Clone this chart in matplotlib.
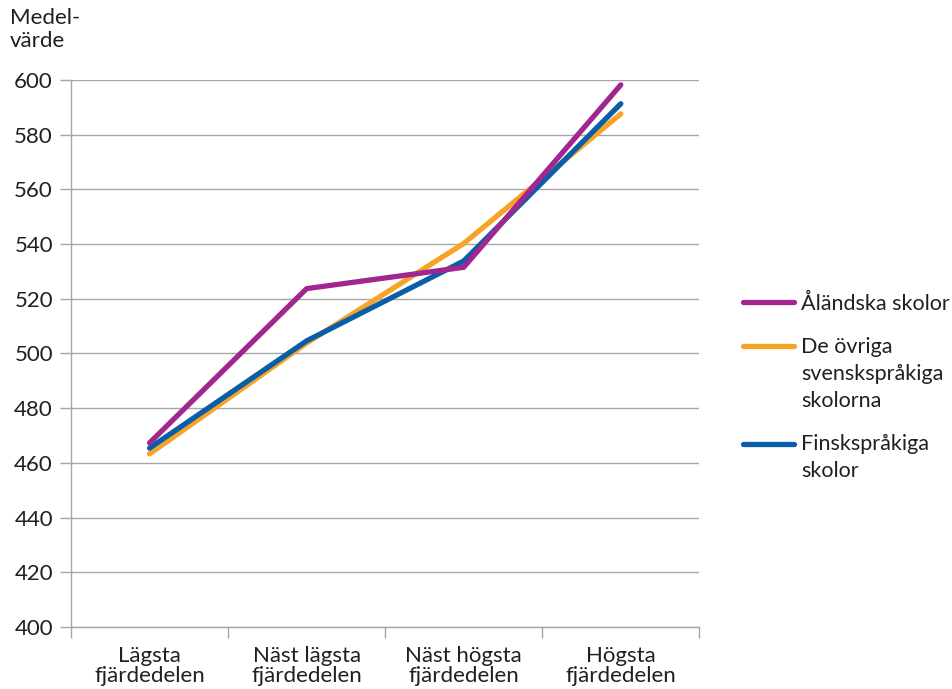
import matplotlib
matplotlib.use("Agg")
import matplotlib.pyplot as plt
from matplotlib.legend_handler import HandlerLine2D
from matplotlib.lines import Line2D
import numpy as np

categories = ["Lägsta\nfjärdedelen", "Näst lägsta\nfjärdedelen",
              "Näst högsta\nfjärdedelen", "Högsta\nfjärdedelen"]
aland = [467.3, 523.7, 531.5, 598.2]
ovriga = [463.3, 503.8, 540.2, 587.6]
finska = [465.4, 504.6, 533.8, 591.3]
series_labels = ["Åländska skolor", "De övriga\nsvenskspråkiga\nskolorna",
                 "Finskspråkiga\nskolor"]
yticks = [400, 420, 440, 460, 480, 500, 520, 540, 560, 580, 600]

plt.rcParams['font.family'] = ['Lato', 'DejaVu Sans']
text_color = "#231f20"
grid_color = "#a6a6a6"
FS = 16
LEG_FS = 15.5
LEG_LS = 1.45


class FirstLineHandler(HandlerLine2D):
    """Legend line handle aligned with the first line of a multi-line label."""

    def __init__(self, nlines, **kw):
        super().__init__(**kw)
        self.nlines = nlines

    def create_artists(self, legend, orig_handle, xdescent, ydescent,
                       width, height, fontsize, trans):
        arts = super().create_artists(legend, orig_handle, xdescent, ydescent,
                                      width, height, fontsize, trans)
        shift = (self.nlines - 1) * fontsize * LEG_LS * 0.9 / 2.0
        for a in arts:
            if isinstance(a, Line2D):
                a.set_ydata(np.asarray(a.get_ydata(), dtype=float) + shift)
        return arts


fig = plt.figure(figsize=(9.52, 6.89), dpi=100)
ax = fig.add_axes([0.0746, 0.09, 0.66, 0.794])

x = np.arange(len(categories))
l_ovr, = ax.plot(x, ovriga, color="#f7a326", lw=3.8, solid_capstyle="round",
                 zorder=3, label=series_labels[1])
l_fin, = ax.plot(x, finska, color="#0a5ea8", lw=3.8, solid_capstyle="round",
                 zorder=4, label=series_labels[2])
l_ala, = ax.plot(x, aland, color="#a1268f", lw=3.8, solid_capstyle="round",
                 zorder=5, label=series_labels[0])

ax.set_xlim(-0.5, len(categories) - 0.5)
ax.set_ylim(400, 600)
ax.set_yticks(yticks)
ax.set_yticklabels([str(v) for v in yticks], fontsize=FS, color=text_color)
ax.yaxis.grid(True, color=grid_color, lw=1)
ax.set_axisbelow(True)
ax.tick_params(axis="y", length=8, width=1, color=grid_color, pad=5)

ax.set_xticks(x)
ax.set_xticklabels(categories, fontsize=FS, color=text_color, linespacing=0.98)
ax.set_xticks(np.arange(-0.5, len(categories), 1.0), minor=True)
ax.tick_params(axis="x", which="major", length=0, pad=14)
ax.tick_params(axis="x", which="minor", length=8, width=1, color=grid_color)

for side in ["top", "right"]:
    ax.spines[side].set_visible(False)
for side in ["left", "bottom"]:
    ax.spines[side].set_color(grid_color)
    ax.spines[side].set_linewidth(1)

fig.text(0.010, 0.988, "Medel-\nvärde", fontsize=FS, color=text_color,
         ha="left", va="top", linespacing=1.2)

handles = [l_ala, l_ovr, l_fin]
leg = ax.legend(handles=handles, loc="upper left",
                bbox_to_anchor=(732 / 952, 1 - 283 / 689),
                bbox_transform=fig.transFigure, frameon=False, fontsize=LEG_FS,
                handlelength=2.4, handletextpad=0.3, labelspacing=1.05,
                borderpad=0,
                handler_map={h: FirstLineHandler(h.get_label().count("\n") + 1)
                             for h in handles})
for t in leg.get_texts():
    t.set_color(text_color)
    t.set_linespacing(LEG_LS)

fig.savefig("out.png", dpi=100, facecolor="white")
